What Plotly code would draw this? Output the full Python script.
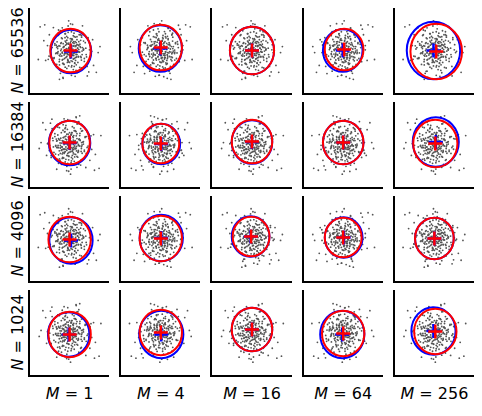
import plotly.graph_objects as go
from plotly.subplots import make_subplots

n_labels = ["65536", "16384", "4096", "1024"]
m_labels = ["1", "4", "16", "64", "256"]

# fitted circles per panel (rows top->bottom, cols left->right)
red_cx = [[0.1, 0.0, 0.0, 0.1, 0.2], [0.0, 0.0, 0.0, 0.0, 0.1], [0.0, 0.0, -0.1, 0.0, 0.0], [0.0, 0.0, 0.0, 0.0, 0.1]]
red_cy = [[0.0, 0.3, 0.0, 0.1, -0.1], [0.2, 0.1, 0.3, 0.2, 0.1], [-0.1, 0.0, 0.2, 0.1, 0.0], [-0.2, 0.0, 0.3, -0.1, 0.1]]
red_r = [[2.2, 2.3, 2.4, 2.1, 2.8], [2.2, 2.0, 2.2, 2.2, 2.4], [2.3, 2.3, 2.0, 2.0, 2.1], [2.3, 2.3, 2.2, 2.3, 2.3]]
blue_cx = [[0.15, -0.05, 0.0, -0.05, -0.1], [0.0, 0.05, 0.0, 0.0, 0.15], [0.15, 0.05, -0.15, 0.05, 0.0], [-0.1, 0.05, 0.0, -0.1, -0.1]]
blue_cy = [[-0.1, 0.2, 0.0, 0.0, 0.0], [0.15, 0.05, 0.25, 0.2, 0.25], [-0.2, 0.05, 0.2, 0.1, 0.0], [-0.2, -0.2, 0.3, -0.2, 0.15]]
blue_r = [[2.2, 2.35, 2.4, 2.15, 2.9], [2.25, 2.05, 2.2, 2.2, 2.5], [2.35, 2.35, 2.05, 2.05, 2.1], [2.25, 2.4, 2.2, 2.4, 2.4]]

# sample point cloud (shared shape)
cloud_x = [0.1, -0.4, 0.6, -0.9, 1.2, -1.3, 0.3, -0.2, 0.8, -0.7, 1.5, -1.6, 0.0, 0.5, -0.5, 1.0,
           -1.1, 1.8, -1.9, 0.2, -0.3, 0.9, -0.8, 1.3, -1.4, 0.4, -0.6, 0.7, -1.0, 1.6, -2.1, 2.2,
           -0.1, 0.6, -0.4, 1.1, -1.2, 0.3, -0.9, 1.4, -1.7, 2.0, -2.4, 2.6, -2.8, 3.1, -3.2, 0.2,
           -0.2, 0.9, -0.6, 1.7, -1.5, 0.5, -0.3, 1.2, -0.8, 2.3, -2.2, 0.0, 0.8, -1.0, 1.9, -1.8,
           0.4, -0.5, 1.0, -1.3, 2.5, -2.6, 0.1, -0.7, 0.6, -0.1, 1.4, -1.1, 3.3, -3.4, 2.9, -2.7]
cloud_y = [0.2, -0.3, 0.5, 0.8, -0.6, -0.2, 1.1, -1.0, 1.4, -1.3, 0.1, 0.7, -0.5, -1.6, 1.7, 0.9,
           -0.9, -0.4, 0.3, 1.9, -1.8, -1.2, 1.2, 1.5, -1.4, -0.1, 0.4, -2.0, 2.0, -1.1, -0.6, 0.6,
           0.0, 0.9, -0.7, -1.7, 1.6, 2.2, -2.1, 0.3, -0.8, 1.3, 0.5, -1.5, 1.0, -0.2, 2.4, -2.5,
           1.3, 0.6, -1.4, 0.8, -0.3, -0.8, 0.7, 1.9, 2.3, -0.2, 1.6, -1.2, -0.4, -2.3, -1.6, 0.9,
           1.5, -0.1, 0.1, 0.2, 1.1, -1.0, 2.7, -2.8, -2.6, 3.0, 2.5, -2.9, 0.4, -0.9, -2.2, 2.6]

rows, cols = len(n_labels), len(m_labels)
fig = make_subplots(rows=rows, cols=cols, horizontal_spacing=0.027, vertical_spacing=0.024)

for i in range(rows):
    for j in range(cols):
        sx = 1 if (i + j) % 2 == 0 else -1
        sy = 1 if i % 2 == 0 else -1
        xs = [sx * v for v in cloud_x] + [sy * v * 0.8 for v in cloud_y] + [0.5 * v for v in cloud_y]
        ys = [sy * v for v in cloud_y] + [sx * v * 0.8 for v in cloud_x] + [-0.5 * v for v in cloud_x]
        fig.add_trace(go.Scatter(x=xs, y=ys, mode="markers",
                                 marker=dict(size=1.8, color="#555555"),
                                 showlegend=False, hoverinfo="skip"), row=i + 1, col=j + 1)
        for cx, cy, r, c in [(blue_cx[i][j], blue_cy[i][j], blue_r[i][j], "blue"),
                             (red_cx[i][j], red_cy[i][j], red_r[i][j], "red")]:
            fig.add_shape(type="circle", x0=cx - r, x1=cx + r, y0=cy - r, y1=cy + r,
                          line=dict(color=c, width=2), row=i + 1, col=j + 1)
        fig.add_trace(go.Scatter(x=[blue_cx[i][j]], y=[blue_cy[i][j]], mode="markers",
                                 marker=dict(symbol="cross-thin", size=10, line=dict(color="blue", width=2.5)),
                                 showlegend=False), row=i + 1, col=j + 1)
        fig.add_trace(go.Scatter(x=[red_cx[i][j]], y=[red_cy[i][j]], mode="markers",
                                 marker=dict(symbol="cross-thin", size=10, line=dict(color="red", width=2.5)),
                                 showlegend=False), row=i + 1, col=j + 1)

fig.update_xaxes(range=[-4.3, 4.3], showticklabels=False, showgrid=False, zeroline=False, automargin=False,
                 showline=True, linecolor="black", linewidth=1.5, ticks="")
fig.update_yaxes(range=[-4.3, 4.3], showticklabels=False, showgrid=False, zeroline=False, automargin=False,
                 showline=True, linecolor="black", linewidth=1.5, ticks="")

for j, m in enumerate(m_labels):
    fig.update_xaxes(title=dict(text="<i>M</i> = " + m, font=dict(size=16, color="black"), standoff=12),
                     row=rows, col=j + 1)
for i, n in enumerate(n_labels):
    fig.update_yaxes(title=dict(text="<i>N</i> = " + n, font=dict(size=16, color="black"), standoff=8),
                     row=i + 1, col=1)

fig.update_layout(width=466, height=400, margin=dict(l=22, r=0, t=0, b=33),
                  plot_bgcolor="white", paper_bgcolor="white",
                  font=dict(family="DejaVu Sans"))
fig.write_html("out.html")
